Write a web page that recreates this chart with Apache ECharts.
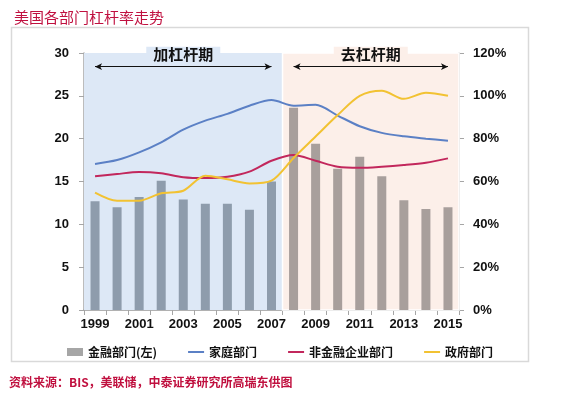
<!DOCTYPE html>
<html><head><meta charset="utf-8">
<script src="https://cdn.jsdelivr.net/npm/echarts@6/dist/echarts.min.js"></script>
<style>html,body{margin:0;padding:0;background:#fff;}#c{width:573px;height:414px;}</style>
</head><body><div id="c"></div>
<script>
const years = ['1999','2000','2001','2002','2003','2004','2005','2006','2007','2008','2009','2010','2011','2012','2013','2014','2015'];
const financial = [12.7,12.0,13.2,15.1,12.9,12.4,12.4,11.7,15.0,23.6,19.4,16.5,17.9,15.6,12.8,11.8,12.0];
const household = [68.2,70.0,73.6,78.3,84.2,88.4,91.6,95.4,98.0,95.4,95.8,90.8,85.8,82.7,81.1,80.0,79.0];
const nonfinCorp = [62.4,63.5,64.4,63.8,62.0,61.6,62.2,64.6,69.7,72.4,69.7,66.9,66.4,66.9,67.7,68.8,70.8];
const government = [54.8,51.0,51.0,54.5,55.7,62.7,61.0,59.1,60.4,71.0,81.0,91.0,100.0,102.4,98.6,101.4,100.0];
const leftTicks = [0,5,10,15,20,25,30];
const rightTicks = [0,20,40,60,80,100,120];
const phases = ['加杠杆期','去杠杆期'];
const seriesNames = ['金融部门(左)','家庭部门','非金融企业部门','政府部门'];

const FONT = '"Liberation Sans", Arial, "Noto Sans CJK SC", sans-serif';
const CJK = '"Noto Sans CJK SC", sans-serif';
const crimson = '#c0103f';
const blueBar = '#8e9cac', pinkBar = '#a89f9c';
const blueBg = '#dde8f6', pinkBg = '#fcefe9';

const chart = echarts.init(document.getElementById('c'), null, {renderer:'canvas'});
const arrowLabel = (bg) => ({show:true, position:'middle', color:'#111', fontSize:15, fontWeight:'bold', fontFamily:CJK,
  backgroundColor:bg, padding:[0,7], formatter: p => p.name});
const hideDot = {color:'rgba(0,0,0,0)', borderWidth:0};
chart.setOption({
  animation:false,
  title:{text:'美国各部门杠杆率走势', left:9, top:5, textStyle:{color:crimson, fontSize:15, fontWeight:'normal', fontFamily:CJK}},
  graphic:[
    {type:'rect', shape:{x:11.5,y:27.5,width:517,height:334}, style:{fill:null, stroke:'#d9d9d9', lineWidth:1.5}, silent:true, z:-1},
    {type:'text', left:9, top:376, style:{text:'资料来源：BIS，美联储，中泰证券研究所高瑞东供图', fill:crimson, font:'bold 12px "Noto Sans CJK SC", sans-serif'}}
  ],
  legend:{
    left:62, top:341, itemGap:30, itemWidth:16, itemHeight:8,
    textStyle:{color:'#111', fontSize:12, fontWeight:'bold', fontFamily:CJK},
    data:[
      {name:seriesNames[0], icon:'rect', itemStyle:{color:'#a6a6a6'}},
      {name:seriesNames[1], itemStyle:hideDot},
      {name:seriesNames[2], itemStyle:hideDot},
      {name:seriesNames[3], itemStyle:hideDot}
    ]
  },
  grid:{left:84, right:114, top:53, bottom:104},
  xAxis:{type:'category', data:years, boundaryGap:true,
    axisLine:{lineStyle:{color:'#a6a6a6', width:1.5}},
    axisTick:{show:true, interval:0, length:5, lineStyle:{color:'#a6a6a6'}},
    axisLabel:{interval:1, color:'#111', fontSize:13, fontWeight:'bold', fontFamily:FONT, margin:8}
  },
  yAxis:[
    {type:'value', min:leftTicks[0], max:leftTicks[leftTicks.length-1], interval:5,
     axisLine:{show:true, lineStyle:{color:'#a6a6a6', width:1.5}},
     axisTick:{show:true, length:5, lineStyle:{color:'#a6a6a6'}},
     splitLine:{show:true, lineStyle:{color:'#d0d0d0'}},
     axisLabel:{color:'#111', fontSize:13, fontWeight:'bold', fontFamily:FONT, margin:15}},
    {type:'value', min:rightTicks[0], max:rightTicks[rightTicks.length-1], interval:20,
     axisLine:{show:true, lineStyle:{color:'#a6a6a6', width:1.5}},
     axisTick:{show:true, length:5, lineStyle:{color:'#a6a6a6'}},
     splitLine:{show:false},
     axisLabel:{color:'#111', fontSize:13, fontWeight:'bold', fontFamily:FONT, margin:14, formatter:'{value}%'}}
  ],
  series:[
    {name:seriesNames[0], type:'bar', yAxisIndex:0, barWidth:9, color:'#a6a6a6',
     data: financial.map((v,i)=>({value:v, itemStyle:{color: i<9 ? blueBar : pinkBar}})),
     markArea:{silent:true, data:[
       [{xAxis:years[0], itemStyle:{color:blueBg}}, {xAxis:years[8]}],
       [{xAxis:years[9], itemStyle:{color:pinkBg, borderColor:'#ffffff', borderWidth:1.5}}, {xAxis:years[16]}]
     ]},
     markLine:{silent:true, symbol:['arrow','arrow'], symbolSize:[5,7],
       lineStyle:{color:'#111', width:1, type:'solid'},
       data:[
         [{name:phases[0], coord:[years[0],28.4], label:arrowLabel(blueBg)}, {coord:[years[8],28.4]}],
         [{name:phases[1], coord:[years[9],28.4], label:arrowLabel(pinkBg)}, {coord:[years[16],28.4]}]
       ]}
    },
    {name:seriesNames[1], type:'line', yAxisIndex:1, data:household, smooth:0.3, symbol:'none', color:'#5b80c5', lineStyle:{width:2}},
    {name:seriesNames[2], type:'line', yAxisIndex:1, data:nonfinCorp, smooth:0.3, symbol:'none', color:'#c2275c', lineStyle:{width:2}},
    {name:seriesNames[3], type:'line', yAxisIndex:1, data:government, smooth:0.3, symbol:'none', color:'#f2c232', lineStyle:{width:2}}
  ]
});
</script></body></html>
